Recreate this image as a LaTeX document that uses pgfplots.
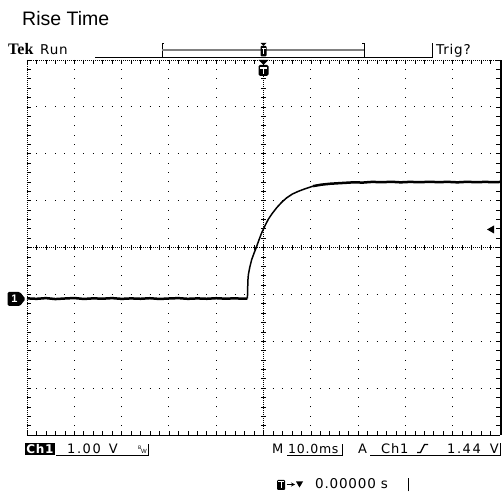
\documentclass[border=0pt]{standalone}
\usepackage{pgfplots}
\pgfplotsset{compat=1.18}
\usepackage{fontspec}
\setmainfont{Liberation Sans}
\newfontfamily\tekfont{Liberation Serif}
\newfontfamily\osc[LetterSpace=6]{DejaVu Sans}
\newfontfamily\oscw[LetterSpace=12]{DejaVu Sans}
\begin{document}
\begin{tikzpicture}[x=1pt,y=1pt]
\path[use as bounding box] (0,0) rectangle (503,492);
\begin{axis}[at={(27pt,57pt)}, anchor=south west, width=473pt, height=375pt, scale only axis,
 xmin=-5,xmax=5,ymin=-4,ymax=4,
 xtick={-4,...,4}, ytick={-3,...,3},
 minor xtick={-5,-4.8,...,5}, minor ytick={-4,-3.8,...,4},
 xticklabels={}, yticklabels={},
 tick align=inside, major tick length=4pt, minor tick length=4pt,
 tick style={black, line width=0.6pt},
 grid=major,
 x grid style={black, line width=0.9pt, dash pattern=on 0.9pt off 8.475pt, dash phase=0.45pt},
 y grid style={black, line width=0.9pt, dash pattern=on 0.9pt off 8.56pt, dash phase=0.45pt},
 axis line style={draw=none},
]
% baseline
\addplot[black, line width=2.5pt, line join=round] coordinates {
(-5.0,-1.085) (-4.8,-1.095) (-4.6,-1.080) (-4.4,-1.100) (-4.2,-1.088) (-4.0,-1.078)
(-3.8,-1.098) (-3.6,-1.085) (-3.4,-1.092) (-3.2,-1.080) (-3.0,-1.096) (-2.8,-1.086)
(-2.6,-1.094) (-2.4,-1.082) (-2.2,-1.098) (-2.0,-1.088) (-1.8,-1.080) (-1.6,-1.095)
(-1.4,-1.086) (-1.2,-1.094) (-1.0,-1.082) (-0.8,-1.092) (-0.6,-1.084) (-0.45,-1.093) (-0.34,-1.088)};
% rise
\addplot[black, line width=1.5pt, line join=round] coordinates {
(-0.34,-1.088) (-0.33,-0.70) (-0.32,-0.58) (-0.29,-0.42) (-0.25,-0.26) (-0.20,-0.12)
(-0.16,-0.02) (-0.10,0.15) (-0.04,0.31) (0.03,0.46) (0.10,0.60) (0.18,0.72)
(0.28,0.85) (0.38,0.96) (0.49,1.06) (0.61,1.14) (0.74,1.20) (0.90,1.26) (1.05,1.31)};
% plateau
\addplot[black, line width=2.5pt, line join=round] coordinates {
(1.05,1.31) (1.22,1.34) (1.41,1.36) (1.65,1.375) (1.90,1.39) (2.1,1.385) (2.3,1.40)
(2.5,1.392) (2.7,1.402) (2.9,1.390) (3.1,1.400) (3.3,1.392) (3.5,1.402) (3.7,1.394)
(3.9,1.400) (4.1,1.390) (4.3,1.401) (4.5,1.393) (4.7,1.400) (4.85,1.392) (5.0,1.398)};
\end{axis}
% borders
\draw[black, line width=0.8pt, dash pattern=on 0.8pt off 1.2pt] (27,57) -- (27,432);
\draw[black, line width=0.8pt, dash pattern=on 0.8pt off 1.2pt] (27,432) -- (500,432);
\draw[black, line width=0.8pt] (27,57) -- (500,57);
\draw[black, line width=2.6pt] (501,57) -- (501,432);
% center crosshair
\draw[black, line width=0.8pt, dash pattern=on 0.8pt off 1.2pt] (27,244.5) -- (500,244.5);
\draw[black, line width=0.8pt, dash pattern=on 0.8pt off 1.2pt] (263.5,57) -- (263.5,432);
\foreach \i in {1,...,49} {\draw[black, line width=0.6pt] ({27+\i*9.46},242) -- ++(0,5);}
\foreach \j in {1,...,39} {\draw[black, line width=0.6pt] (261,{57+\j*9.375}) -- ++(5,0);}
% title and header
\node[anchor=base west, inner sep=0pt] at (22,466) {\fontsize{19.5}{19.5}\selectfont Rise Time};
\node[anchor=base west, inner sep=0pt] at (8,437) {\tekfont\bfseries\fontsize{16}{16}\selectfont Tek};
\node[anchor=base west, inner sep=0pt] at (40,437) {\osc\fontsize{13.5}{13.5}\selectfont Run};
\node[anchor=base west, inner sep=0pt] at (436,437) {\osc\fontsize{13.5}{13.5}\selectfont Trig?};
\draw[black, line width=0.8pt] (95,435) -- (432,435) -- (432,449);
\draw[black, line width=0.8pt] (164,435) -- (162,435) -- (162,449) -- (164,449);
\draw[black, line width=0.8pt] (362,435) -- (364,435) -- (364,449) -- (362,449);
\draw[gray, line width=1.6pt] (162,442) -- (364,442);
\fill[black] (260.5,449) -- (266.5,449) -- (263.5,446) -- cycle;
\fill[black, rounded corners=1pt] (260.5,435.5) rectangle (266.5,446);
\draw[white, line width=1pt] (261.5,443.5) -- (265.5,443.5) (263.5,443.5) -- (263.5,437.5);
\fill[black] (258.5,432) -- (268.5,432) -- (263.5,427) -- cycle;
\fill[black, rounded corners=1.5pt] (258.5,416) rectangle (268.5,427);
\draw[white, line width=1.5pt] (260.3,424) -- (266.7,424) (263.5,424) -- (263.5,418);
% ground marker
\fill[black, rounded corners=1.5pt] (7.5,186) -- (20,186) -- (25.5,193) -- (20,200) -- (7.5,200) -- cycle;
\node[white, inner sep=0pt] at (14.5,193) {\bfseries\fontsize{11}{11}\selectfont 1};
% trigger level arrow
\fill[black] (487,262.5) -- (494,266.5) -- (494,258.5) -- cycle;
% bottom readout
\fill[black] (25,37) rectangle (55,49);
\node[white, anchor=base, inner sep=0pt] at (40,38.5) {\osc\bfseries\fontsize{12}{12}\selectfont Ch1};
\draw[black, line width=0.8pt] (56,37) -- (148,37) -- (148,48);
\node[anchor=base west, inner sep=0pt] at (67,38.5) {\oscw\fontsize{13}{13}\selectfont 1.00};
\node[anchor=base east, inner sep=0pt] at (118,38.5) {\osc\fontsize{13}{13}\selectfont V};
\node[anchor=base west, inner sep=0pt] at (138,42) {\fontsize{5}{5}\selectfont B};
\node[anchor=base west, inner sep=0pt] at (141,38.5) {\fontsize{6}{6}\selectfont W};
\node[anchor=base west, inner sep=0pt] at (272,38.5) {\osc\fontsize{13}{13}\selectfont M};
\node[anchor=base west, inner sep=0pt] at (288,38.5) {\osc\fontsize{12.5}{12.5}\selectfont 10.0ms};
\draw[black, line width=0.8pt] (287,37) -- (342,37) -- (342,48);
\node[anchor=base west, inner sep=0pt] at (358,38.5) {\osc\fontsize{13}{13}\selectfont A};
\node[anchor=base west, inner sep=0pt] at (381,38.5) {\osc\fontsize{13}{13}\selectfont Ch1};
\draw[black, line width=1.2pt] (417,39.5) -- (420.5,39.5) -- (424.5,47.5) -- (428,47.5);
\node[anchor=base west, inner sep=0pt] at (447,38.5) {\oscw\fontsize{13}{13}\selectfont 1.44};
\node[anchor=base east, inner sep=0pt] at (499,38.5) {\osc\fontsize{13}{13}\selectfont V};
\draw[black, line width=0.8pt] (370,37) -- (500,37) -- (500,49);
% time offset
\fill[black, rounded corners=1pt] (277,2) rectangle (285,12);
\draw[white, line width=1pt] (278.3,10) -- (283.7,10) (281,10) -- (281,3.5);
\draw[black, line width=0.8pt, -stealth] (286.5,7.5) -- (295,7.5);
\fill[black] (296,10.5) -- (303,10.5) -- (299.5,4.5) -- cycle;
\node[anchor=base west, inner sep=0pt] at (315,3) {\osc\fontsize{13.5}{13.5}\selectfont 0.00000 s};
\draw[black, line width=0.8pt] (408,0.5) -- (408,14);
\end{tikzpicture}
\end{document}
